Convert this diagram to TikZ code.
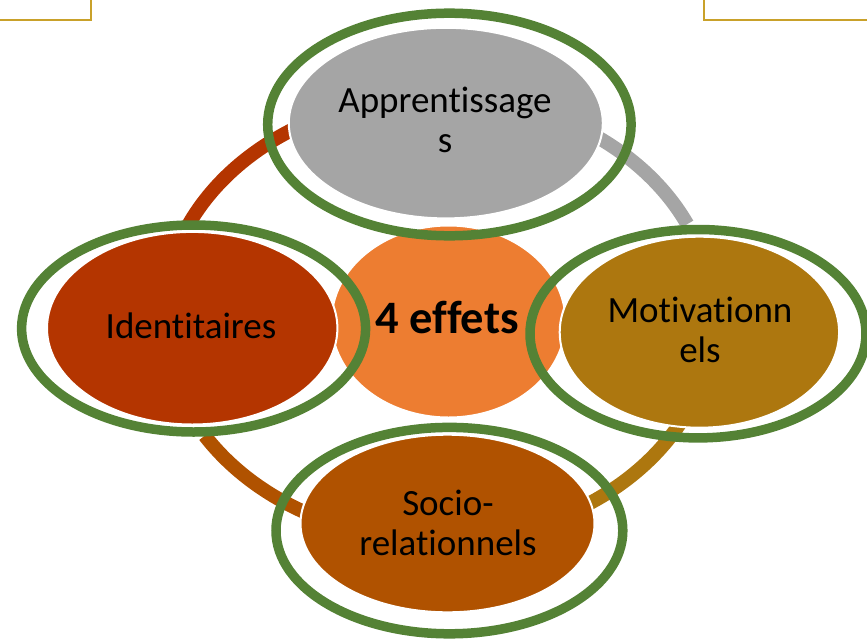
\documentclass[tikz,border=0pt]{standalone}
\usepackage{fontspec}
\setmainfont{Carlito}[Ligatures=NoCommon]
\usetikzlibrary{shapes.geometric}
\definecolor{cgray}{HTML}{A5A5A5}
\definecolor{cred}{HTML}{B43500}
\definecolor{cgold}{HTML}{AD770F}
\definecolor{cbrown}{HTML}{B05200}
\definecolor{corange}{HTML}{ED7D31}
\definecolor{cgreen}{HTML}{548235}
\definecolor{cline}{HTML}{C9A12A}
\begin{document}
\begin{tikzpicture}[x=1pt,y=-1pt,
  blob/.style={ellipse, draw=white, line width=2pt, inner sep=0pt},
  greenring/.style={draw=cgreen, line width=9.5pt},
  arcband/.style={line width=14pt},
  lbl/.style={font={\fontsize{37}{40}\selectfont}, align=center, anchor=base, inner sep=0pt, text=black},
  cornerline/.style={draw=cline, line width=2pt}]
\useasboundingbox (0,0) rectangle (867,640);
\clip (0,0) rectangle (867,640);
% corner marks
\coordinate (tla) at (0,20.3); \coordinate (tlb) at (91,20.3); \coordinate (tlc) at (91,0);
\coordinate (tra) at (867,20.3); \coordinate (trb) at (703.7,20.3); \coordinate (trc) at (703.7,0);
\draw[cornerline] (tla) -- (tlb) -- (tlc);
\draw[cornerline] (tra) -- (trb) -- (trc);
% cycle arcs
\coordinate (E) at (438,318);
\draw[arcband, draw=cred] (E) ++(155.5:275pt and 222pt) arc[start angle=155.5, end angle=116, x radius=275pt, y radius=222pt];
\draw[arcband, draw=cgray] (E) ++(60:275pt and 222pt) arc[start angle=60, end angle=25, x radius=275pt, y radius=222pt];
\draw[arcband, draw=cgold] (E) ++(-26:275pt and 222pt) arc[start angle=-26, end angle=-60, x radius=275pt, y radius=222pt];
\draw[arcband, draw=cbrown] (E) ++(-114:275pt and 222pt) arc[start angle=-114, end angle=-148, x radius=275pt, y radius=222pt];
% centre and satellites
\node[blob, fill=corange, minimum width=234pt, minimum height=192pt] (cen) at (448.5,321.5) {};
\node[blob, fill=cgray, minimum width=314pt, minimum height=190.6pt] (app) at (445.8,123.1) {};
\node[blob, fill=cred, minimum width=290.4pt, minimum height=192.6pt] (ide) at (192.2,328.2) {};
\node[blob, fill=cgold, minimum width=279.4pt, minimum height=191pt] (mot) at (699.4,332.2) {};
\node[blob, fill=cbrown, minimum width=294pt, minimum height=177.6pt] (soc) at (447.5,523.5) {};
% green rings
\draw[greenring] (449.4,124.5) ellipse [x radius=181.7pt, y radius=111.3pt];
\draw[greenring] (193.6,328.5) ellipse [x radius=172pt, y radius=103.5pt];
\draw[greenring] (698,333.7) ellipse [x radius=168pt, y radius=104.2pt];
\draw[greenring] (449.4,530.6) ellipse [x radius=173.4pt, y radius=103.2pt];
% labels (base anchor = baseline of the last line)
\node[lbl] (tapp) at (445,152) {Apprentissage\\s};
\node[lbl] (tide) at (191,338) {Identitaires};
\node[lbl] (tmot) at (700,362) {Motivationn\\els};
\node[lbl] (tsoc) at (448,555) {Socio-\\relationnels};
\node[lbl, font={\fontsize{46.5}{50}\selectfont\bfseries}] (tcen) at (447,333) {4 effets};
\end{tikzpicture}
\end{document}
